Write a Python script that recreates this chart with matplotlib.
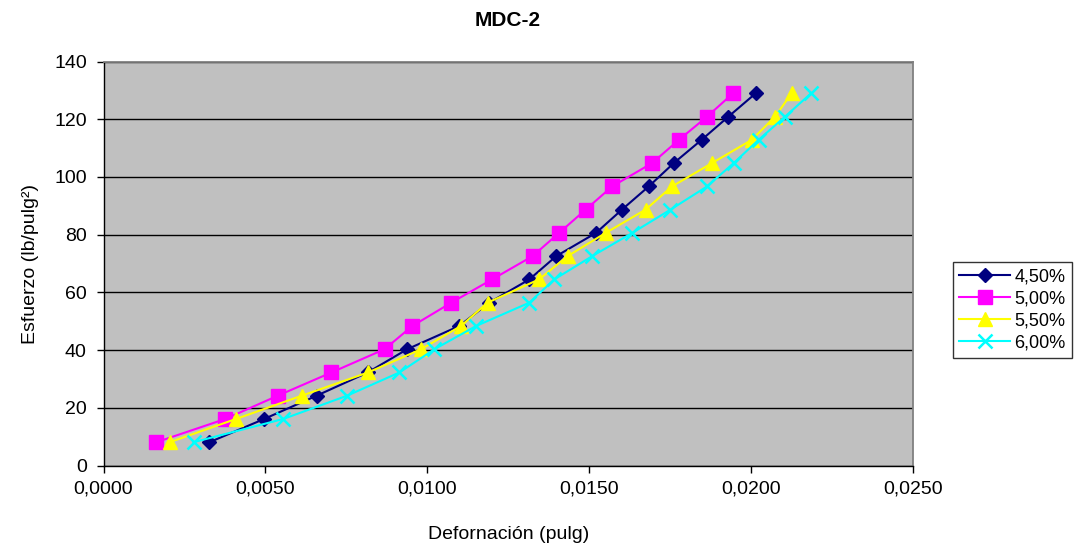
import matplotlib
matplotlib.use("Agg")
import matplotlib.pyplot as plt
from matplotlib.ticker import FuncFormatter

plt.rcParams['font.family'] = ['Liberation Sans', 'DejaVu Sans']

# Esfuerzo (lb/pulg²) común a todas las series
esfuerzo = [8.06, 16.12, 24.18, 32.24, 40.30, 48.36, 56.42, 64.48,
            72.54, 80.60, 88.66, 96.72, 104.78, 112.84, 120.90, 128.96]

# Deformación (pulg) por contenido de humedad
def_450 = [0.00327, 0.00496, 0.00658, 0.00816, 0.00938, 0.01099, 0.01191, 0.01315,
           0.01398, 0.01521, 0.01601, 0.01684, 0.01761, 0.01847, 0.01930, 0.02014]
def_500 = [0.00163, 0.00376, 0.00538, 0.00704, 0.00868, 0.00954, 0.01074, 0.01200,
           0.01325, 0.01407, 0.01489, 0.01571, 0.01694, 0.01777, 0.01864, 0.01944]
def_550 = [0.00204, 0.00409, 0.00612, 0.00817, 0.00981, 0.01104, 0.01186, 0.01345,
           0.01433, 0.01551, 0.01674, 0.01756, 0.01879, 0.02002, 0.02074, 0.02125]
def_600 = [0.00278, 0.00555, 0.00752, 0.00914, 0.01022, 0.01151, 0.01315, 0.01392,
           0.01509, 0.01633, 0.01751, 0.01864, 0.01946, 0.02023, 0.02105, 0.02185]

series_labels = ["4,50%", "5,00%", "5,50%", "6,00%"]
x_ticks = [0.0, 0.005, 0.010, 0.015, 0.020, 0.025]
y_ticks = [0, 20, 40, 60, 80, 100, 120, 140]

fig = plt.figure(figsize=(10.77, 5.50), dpi=100)
ax = fig.add_axes([103.5 / 1077, 84.5 / 550, 809.5 / 1077, 404 / 550])
ax.set_facecolor('#C0C0C0')

styles = [
    dict(color='#000080', marker='D', ms=7.5, mfc='#000080', mec='#000080', lw=1.5),
    dict(color='#FF00FF', marker='s', ms=10, mfc='#FF00FF', mec='#FF00FF', lw=1.5),
    dict(color='#FFFF00', marker='^', ms=10, mfc='#FFFF00', mec='#FFFF00', lw=1.5),
    dict(color='#00FFFF', marker='x', ms=10, mew=1.8, lw=1.5),
]
for xs, lab, st in zip([def_450, def_500, def_550, def_600], series_labels, styles):
    ax.plot(xs, esfuerzo, label=lab, zorder=3, clip_on=False, **st)

ax.set_xlim(x_ticks[0], x_ticks[-1])
ax.set_ylim(y_ticks[0], y_ticks[-1])
ax.set_xticks(x_ticks)
ax.set_yticks(y_ticks)
ax.xaxis.set_major_formatter(FuncFormatter(lambda v, p: f"{v:.4f}".replace('.', ',')))
ax.yaxis.grid(True, color='black', lw=1.0)
ax.set_axisbelow(True)

for side in ('top', 'right'):
    ax.spines[side].set_color('#808080')
    ax.spines[side].set_linewidth(1.3)
for side in ('left', 'bottom'):
    ax.spines[side].set_color('black')
    ax.spines[side].set_linewidth(1.0)

ax.tick_params(axis='both', direction='out', length=5, width=1, labelsize=14)
ax.tick_params(axis='y', pad=7)
ax.tick_params(axis='x', pad=6)

ax.set_xlabel("Defornación (pulg)", fontsize=14, labelpad=20)
ax.set_ylabel("Esfuerzo (lb/pulg²)", fontsize=14, labelpad=11)
fig.text(508 / 1077, 1 - 20 / 550, "MDC-2", ha='center', va='center',
         fontsize=15, fontweight='bold')

leg = fig.legend(loc='upper left', bbox_to_anchor=(953 / 1077, 1 - 262 / 550),
                 frameon=True, fancybox=False, fontsize=13, handlelength=2.8,
                 borderpad=0.35, labelspacing=0.28, handletextpad=0.25,
                 borderaxespad=0.0)
leg.get_frame().set_edgecolor('black')
leg.get_frame().set_linewidth(1.0)

fig.savefig("out.png", dpi=100, facecolor='white')
